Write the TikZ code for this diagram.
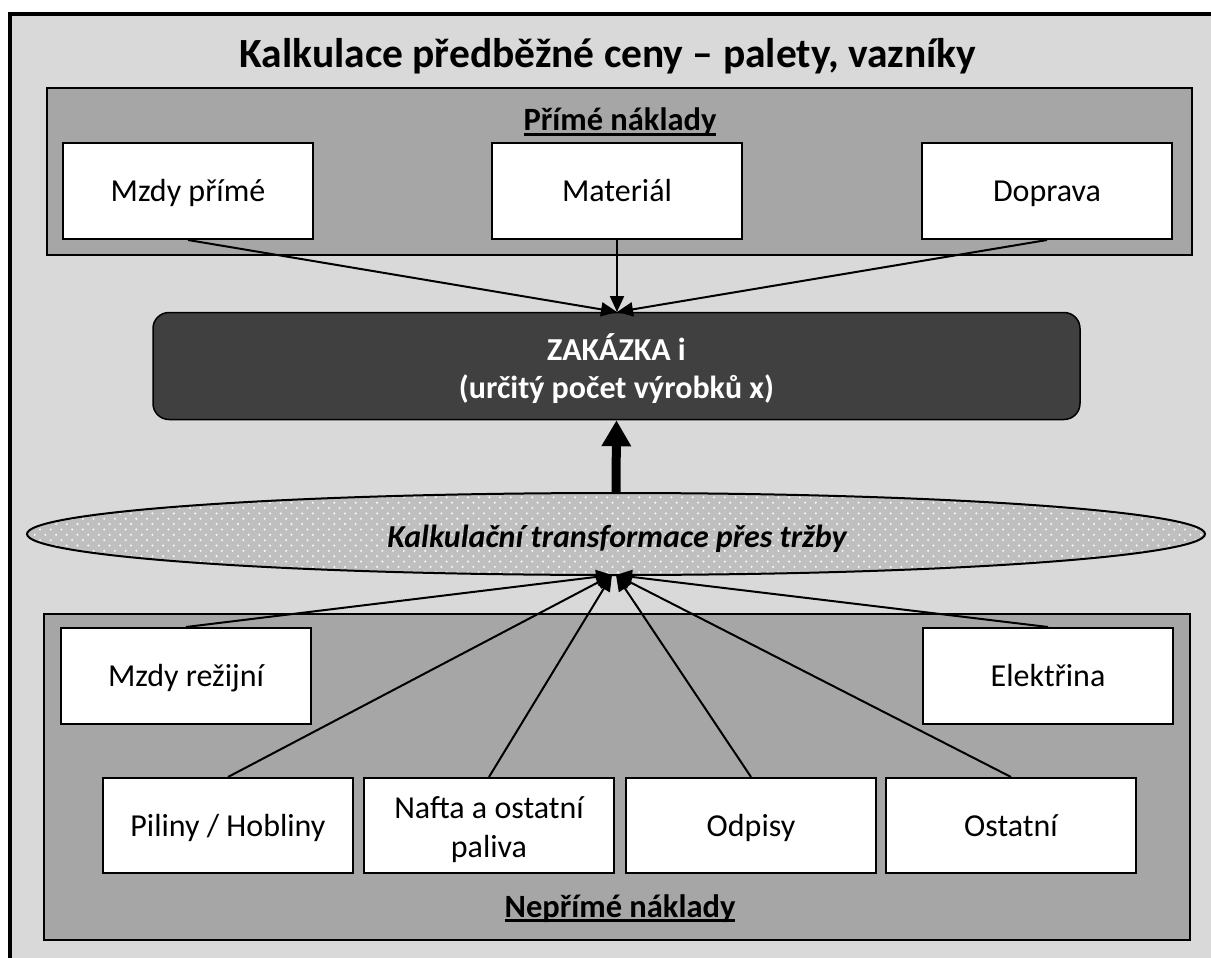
\documentclass[tikz,border=0pt]{standalone}
\usepackage{fontspec}
\setmainfont{Carlito}
\usetikzlibrary{arrows.meta,shapes.geometric}

\definecolor{bgpanel}{HTML}{D9D9D9}
\definecolor{grouppanel}{HTML}{A6A6A6}
\definecolor{darkbox}{HTML}{404040}
\definecolor{dotfill}{HTML}{BFBFBF}

% bold text with a heavy underline
\newcommand{\ulbf}[1]{\setbox0=\hbox{\bfseries #1}\rlap{\rule[-5pt]{\wd0}{2.6pt}}\box0}

\begin{document}
\begin{tikzpicture}[x=1pt,y=-1pt,
  item/.style={draw=black, line width=2pt, fill=white, minimum width=250pt,
    minimum height=96pt, inner sep=0pt, align=center,
    text height=21pt, text depth=0pt,
    font=\fontsize{32}{39}\selectfont},
  group/.style={draw=black, line width=2pt, fill=grouppanel, inner sep=0pt},
  grouplabel/.style={anchor=base, inner sep=0pt, font=\fontsize{32.5}{38}\selectfont},
  feed/.style={line width=2pt, -{Triangle[length=16pt,width=14pt]}},
  ]
\useasboundingbox (0,0) rectangle (1211,958);
\fill[white] (0,0) rectangle (1211,958);
\draw[line width=4pt, fill=bgpanel] (10,14) rectangle (1240,990);

% title
\node[anchor=base, inner sep=0pt, font=\fontsize{41.5}{48}\selectfont\bfseries]
  (title) at (608,67) {Kalkulace předběžné ceny – palety, vazníky};

% direct costs
\node[group, minimum width=1145pt, minimum height=167pt] (direct) at (619.5,171.5) {};
\node[grouplabel] (directlabel) at (620,131) {\ulbf{Přímé náklady}};
\node[item] (wages) at (188,191) {Mzdy přímé};
\node[item] (material) at (617,191) {Materiál};
\node[item] (transport) at (1047,191) {Doprava};

% order
\node[draw=black, line width=1.5pt, fill=darkbox, rounded corners=16pt,
  minimum width=927pt, minimum height=107pt, text=white, align=center,
  text height=72pt, text depth=8pt,
  font=\fontsize{32}{38}\selectfont\bfseries] (order) at (616.5,366)
  {ZAKÁZKA i\\(určitý počet výrobků x)};

% indirect costs
\node[group, minimum width=1146pt, minimum height=326pt] (indirect) at (617,777) {};
\node[grouplabel] (indirectlabel) at (620,917) {\ulbf{Nepřímé náklady}};
\node[item] (overheadwages) at (186,676) {Mzdy režijní};
\node[item] (power) at (1048,676) {Elektřina};
\node[item, minimum height=95pt] (sawdust) at (228,825.5) {Piliny / Hobliny};
\node[item, minimum height=95pt, text height=71pt, text depth=8pt] (fuel)
  at (489,825.5) {Nafta a ostatní\\paliva};
\node[item, minimum height=95pt] (depreciation) at (751,825.5) {Odpisy};
\node[item, minimum height=95pt] (other) at (1011,825.5) {Ostatní};

% transformation ellipse with dotted fill
\node[ellipse, fill=dotfill, inner sep=0pt, minimum width=1178pt,
  minimum height=82pt] (transform) at (616,534) {};
\begin{scope}
  \clip (616,534) ellipse [x radius=588, y radius=40];
  \foreach \r in {0,...,16} {
    \pgfmathsetmacro{\shift}{mod(\r,2)*5.35}
    \foreach \c in {0,...,112} {
      \fill[white, opacity=0.9] (24+\c*10.7+\shift, 492+\r*5.35) circle (1.15pt);
    }
  }
\end{scope}
\draw[line width=2pt] (transform.center) ellipse [x radius=589, y radius=41];
\node[anchor=base, inner sep=0pt, font=\fontsize{32}{38}\selectfont\bfseries\itshape]
  (transformlabel) at (617,547) {Kalkulační transformace přes tržby};

% connectors
\coordinate (toptip) at (617,312);
\coordinate (tipL) at (612,575);
\coordinate (tipR) at (616,575);
\draw[feed] (wages.south) -- (toptip);
\draw[feed] (material.south) -- (toptip);
\draw[feed] (transport.south) -- (toptip);
\draw[line width=9pt, -{Triangle[length=26pt,width=28pt]}] (transform.north) -- (order.south);
\draw[feed] (overheadwages.north) -- (tipL);
\draw[feed] (sawdust.north) -- (tipL);
\draw[feed] (fuel.north) -- (tipL);
\draw[feed] (depreciation.north) -- (tipR);
\draw[feed] (other.north) -- (tipR);
\draw[feed] (power.north) -- (tipR);
\end{tikzpicture}
\end{document}
